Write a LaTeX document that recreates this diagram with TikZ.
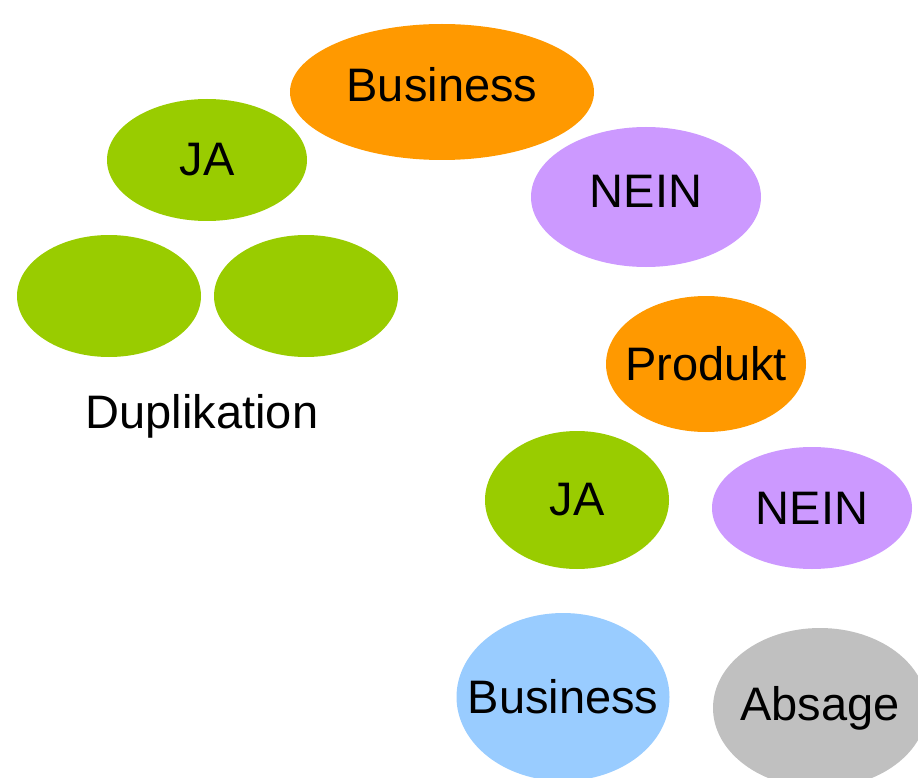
\documentclass[tikz,border=0pt]{standalone}
\usepackage{fontspec}
\setmainfont{Liberation Sans}
\usetikzlibrary{shapes.geometric}
\definecolor{bizorange}{HTML}{FF9900}
\definecolor{yesgreen}{HTML}{99CC00}
\definecolor{nolilac}{HTML}{CC99FF}
\definecolor{bizblue}{HTML}{99CCFF}
\definecolor{refusegray}{HTML}{C0C0C0}
\tikzset{
  blob/.style={ellipse, draw=none, inner sep=0pt},
  caption/.style={font=\fontsize{47}{56}\selectfont, inner sep=0pt}
}
\begin{document}
\begin{tikzpicture}[x=1pt, y=-1pt]
  \useasboundingbox (0,0) rectangle (918,778);
  % upper branch
  \node[blob, fill=bizorange, minimum width=304pt, minimum height=136pt,
        label={[caption, yshift=7pt]center:Business}] (biz) at (442,92) {};
  \node[blob, fill=yesgreen, minimum width=200pt, minimum height=122pt,
        label={[caption]center:JA}] (ja1) at (207,160) {};
  \node[blob, fill=nolilac, minimum width=230pt, minimum height=140pt,
        label={[caption, yshift=6pt]center:NEIN}] (nein1) at (646,197) {};
  % duplicated pair
  \node[blob, fill=yesgreen, minimum width=184pt, minimum height=122pt] (dupa) at (109,296) {};
  \node[blob, fill=yesgreen, minimum width=184pt, minimum height=122pt] (dupb) at (306,296) {};
  \node[caption, anchor=base] (dup) at (202,428) {Duplikation};
  % product branch
  \node[blob, fill=bizorange, minimum width=200pt, minimum height=136pt,
        label={[caption]center:Produkt}] (prod) at (706,364) {};
  \node[blob, fill=yesgreen, minimum width=184pt, minimum height=138pt,
        label={[caption]center:JA}] (ja2) at (577,500) {};
  \node[blob, fill=nolilac, minimum width=200pt, minimum height=122pt,
        label={[caption]center:NEIN}] (nein2) at (812,508) {};
  % outcomes
  \node[blob, fill=bizblue, minimum width=213pt, minimum height=168pt,
        label={[caption]center:Business}] (biz2) at (563,697) {};
  \node[blob, fill=refusegray, minimum width=214pt, minimum height=160pt,
        label={[caption]center:Absage}] (absage) at (820,708) {};
\end{tikzpicture}
\end{document}
